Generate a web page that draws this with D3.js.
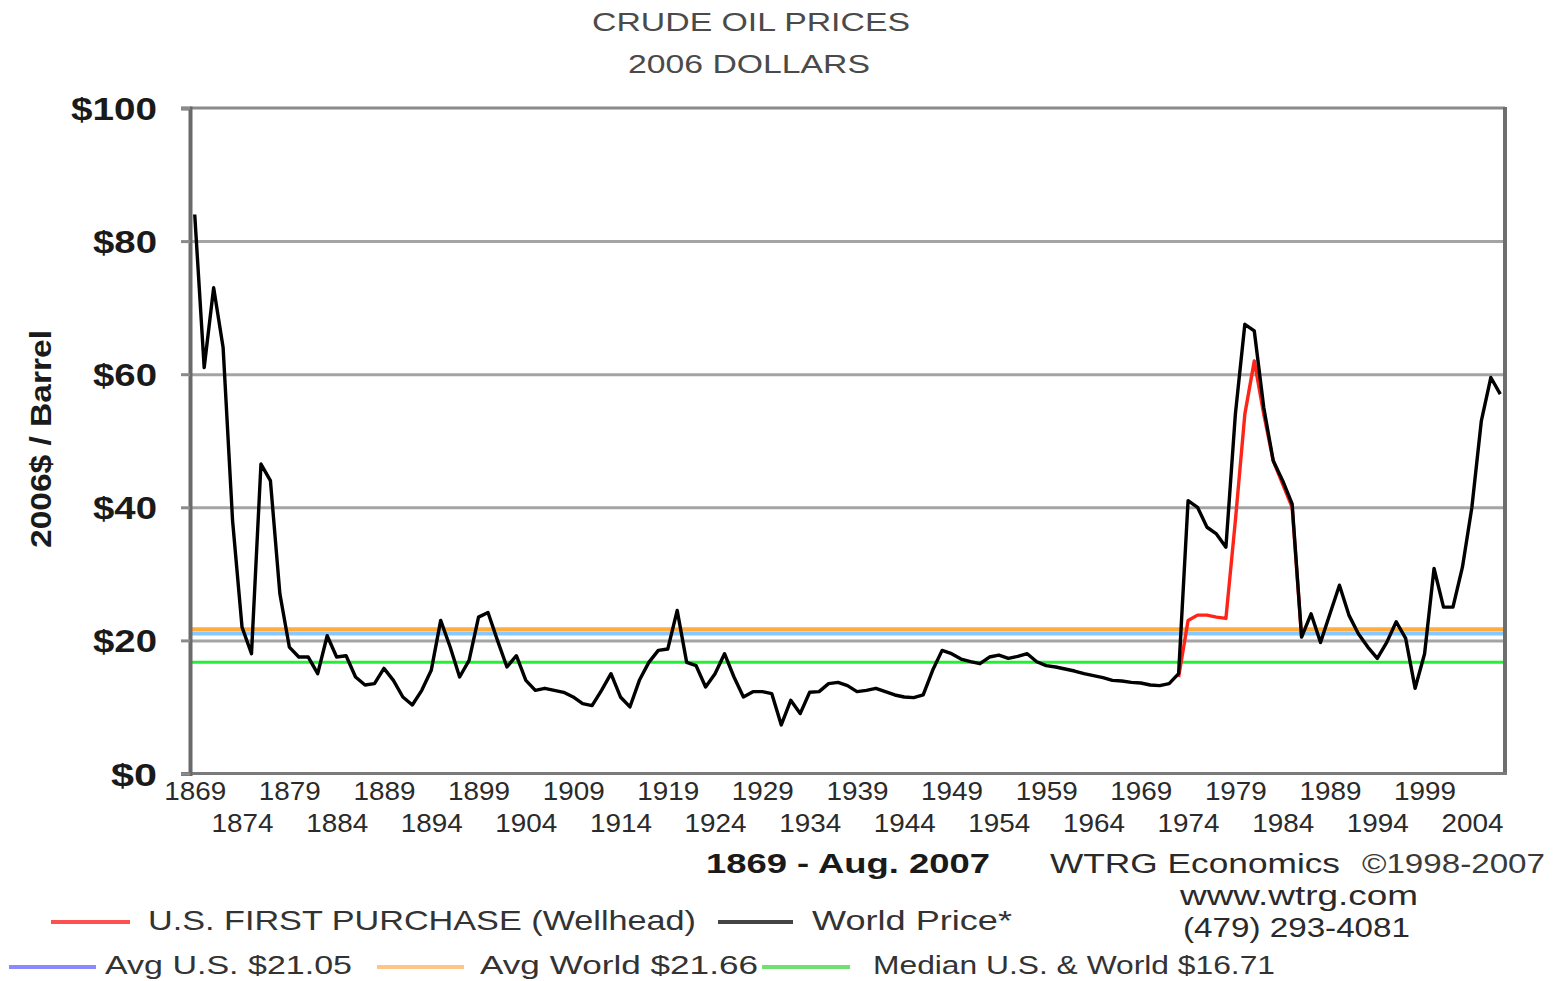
<!DOCTYPE html>
<html>
<head>
<meta charset="utf-8">
<script src="https://cdn.jsdelivr.net/npm/d3@7"></script>
<style>
  body { margin: 0; background: #fff; }
  svg { display: block; }
</style>
</head>
<body>
<div id="chart"></div>
<script>
// crude oil prices, 2006 dollars, 1869 - Aug. 2007

const years = d3.range(1869, 2008)

// world price, one value per year (2006 $/barrel)
const worldPrice = [
    84, 61, 73, 64, 38, 22, 18, 46.5, 44, 27,            // 1869-1878
    19, 17.5, 17.5, 15, 20.7, 17.5, 17.7, 14.5, 13.3, 13.5, // 1879-1888
    15.8, 14, 11.5, 10.3, 12.5, 15.5, 23, 19, 14.5, 17,  // 1889-1898
    23.5, 24.2, 20, 16, 17.7, 14, 12.5, 12.8, 12.5, 12.2, // 1899-1908
    11.5, 10.5, 10.2, 12.5, 15, 11.5, 10, 14, 16.7, 18.5, // 1909-1918
    18.7, 24.5, 16.7, 16.2, 13, 15, 18, 14.5, 11.5, 12.3, // 1919-1928
    12.3, 12, 7.3, 11, 9, 12.2, 12.3, 13.5, 13.7, 13.2,  // 1929-1938
    12.3, 12.5, 12.8, 12.3, 11.8, 11.5, 11.4, 11.8, 15.5, 18.5, // 1939-1948
    18, 17.2, 16.8, 16.5, 17.5, 17.8, 17.3, 17.6, 18, 16.8, // 1949-1958
    16.2, 16, 15.7, 15.4, 15, 14.7, 14.4, 14, 13.9, 13.7, // 1959-1968
    13.6, 13.3, 13.2, 13.5, 15, 41, 40, 37, 36, 34,      // 1969-1978
    54, 67.5, 66.5, 55, 47, 44, 40.5, 20.5, 24, 19.7,    // 1979-1988
    24, 28.3, 23.8, 21, 19, 17.3, 19.7, 22.8, 20.3, 12.8, // 1989-1998
    18, 30.8, 25, 25, 31, 40, 53, 59.5, 57               // 1999-2007
]

// u.s. first purchase (wellhead), where it differs from the world price
const usYears = [1973, 1974, 1975, 1976, 1977, 1978, 1979, 1980, 1981, 1982, 1983, 1984, 1985, 1986]
const usPrice = [14.5, 23, 23.8, 23.8, 23.5, 23.3, 38, 54, 62, 54, 47, 43.5, 40, 20.5]

const avgUS = 21.05
const avgWorld = 21.66
const medianAll = 16.71

const yTicks = [0, 20, 40, 60, 80, 100]
const xTickYears = years.filter(d => (d - 1869) % 5 === 0)

const W = 1554, H = 981
const svg = d3.select('#chart').append('svg').attr('width', W).attr('height', H)
    .style('font-family', '"Liberation Sans", Arial, sans-serif')

const x = d3.scalePoint().domain(years).range([190, 1505]).padding(0.5)
const y = d3.scaleLinear().domain([0, 100]).range([773.5, 108])

// gridlines
svg.append('g')
    .attr('transform', 'translate(190,0)')
    .call(d3.axisLeft(y).tickValues([20, 40, 60, 80]).tickSize(-1315).tickFormat(''))
    .call(g => g.select('.domain').remove())
    .selectAll('line').attr('stroke', '#a4a4a4').attr('stroke-width', 3)

// frame
svg.append('line').attr('x1', 190).attr('x2', 1505).attr('y1', 108).attr('y2', 108)
    .attr('stroke', '#8a8a8a').attr('stroke-width', 3)
svg.append('line').attr('x1', 1505).attr('x2', 1505).attr('y1', 107).attr('y2', 775)
    .attr('stroke', '#6e6e6e').attr('stroke-width', 4)
svg.append('line').attr('x1', 188).attr('x2', 1507).attr('y1', 773.5).attr('y2', 773.5)
    .attr('stroke', '#7a7a7a').attr('stroke-width', 3)

// average / median lines
const hline = (v, color, w) => svg.append('line')
    .attr('x1', 192).attr('x2', 1503).attr('y1', y(v)).attr('y2', y(v))
    .attr('stroke', color).attr('stroke-width', w)
hline(avgUS, '#86c8ff', 4)
hline(avgWorld, '#ffac3c', 4)
hline(medianAll, '#22f033', 3)

// y axis
const yAxis = svg.append('g')
    .attr('transform', 'translate(190,0)')
    .call(d3.axisLeft(y).tickValues(yTicks).tickSize(9).tickPadding(24).tickFormat(d => '$' + d))
yAxis.select('.domain').attr('stroke', '#6a6a6a').attr('stroke-width', 4)
yAxis.selectAll('.tick line').attr('stroke', '#8a8a8a').attr('stroke-width', 3)
yAxis.selectAll('.tick text')
    .attr('fill', '#1a1a1a').attr('font-size', 32).attr('font-weight', 'bold')
    .attr('dy', '0.36em')
    .attr('textLength', d => d === 100 ? 86 : d === 0 ? 46 : 64)
    .attr('lengthAdjust', 'spacingAndGlyphs')

// x axis, labels alternate between two rows
const xAxis = svg.append('g')
    .attr('transform', 'translate(0,773.5)')
    .call(d3.axisBottom(x).tickValues(xTickYears).tickSize(0).tickPadding(0))
xAxis.select('.domain').remove()
xAxis.selectAll('.tick text')
    .attr('fill', '#2a2a2a').attr('font-size', 25)
    .attr('y', (d, i) => i % 2 === 0 ? 18 : 50).attr('dy', '0.35em')
    .attr('textLength', 62).attr('lengthAdjust', 'spacingAndGlyphs')

// price lines
const line = d3.line().x(d => x(d[0])).y(d => y(d[1]))
svg.append('path')
    .datum(usYears.map((d, i) => [d, usPrice[i]]))
    .attr('d', line).attr('fill', 'none')
    .attr('stroke', '#ff2418').attr('stroke-width', 3.4).attr('stroke-linejoin', 'round')
svg.append('path')
    .datum(years.map((d, i) => [d, worldPrice[i]]))
    .attr('d', line).attr('fill', 'none')
    .attr('stroke', '#000').attr('stroke-width', 3.4).attr('stroke-linejoin', 'round')

// texts
const txt = (s, x0, y0, len, size, opts = {}) => svg.append('text')
    .attr('x', x0).attr('y', y0).attr('dy', '0.36em')
    .attr('font-size', size).attr('font-weight', opts.bold ? 'bold' : 'normal')
    .attr('fill', opts.fill || '#2a2a2a')
    .attr('textLength', len).attr('lengthAdjust', 'spacingAndGlyphs')
    .text(s)

txt('CRUDE OIL PRICES', 592, 22, 318, 26, { fill: '#4a4a4a' })
txt('2006 DOLLARS', 628, 64, 242, 26, { fill: '#4a4a4a' })

svg.append('text')
    .attr('transform', 'translate(40,439) rotate(-90)')
    .attr('text-anchor', 'middle').attr('dy', '0.36em')
    .attr('font-size', 30).attr('font-weight', 'bold').attr('fill', '#1a1a1a')
    .attr('textLength', 218).attr('lengthAdjust', 'spacingAndGlyphs')
    .text('2006$ / Barrel')

txt('1869 - Aug. 2007', 706, 863, 284, 27, { bold: true, fill: '#1a1a1a' })
txt('WTRG Economics', 1050, 863, 290, 27)
txt('\u00a91998-2007', 1362, 863, 183, 27, { fill: '#3a3a3a' })
txt('www.wtrg.com', 1180, 895, 238, 27)
txt('(479) 293-4081', 1183, 927, 227, 27)

// legend
const legendLabels = ['U.S. FIRST PURCHASE (Wellhead)', 'World Price*', 'Avg U.S. $21.05', 'Avg World $21.66', 'Median U.S. & World  $16.71']
const legendColors = ['#ff5050', '#444444', '#8a8aff', '#ffc486', '#70e070']
const legendLayout = [
    { lx: 51, lw: 79, tx: 148, tl: 548, ty: 920, fs: 28 },
    { lx: 718, lw: 75, tx: 812, tl: 200, ty: 920, fs: 28 },
    { lx: 9, lw: 87, tx: 105, tl: 247, ty: 965, fs: 25 },
    { lx: 377, lw: 87, tx: 480, tl: 278, ty: 965, fs: 25 },
    { lx: 762, lw: 88, tx: 873, tl: 402, ty: 965, fs: 25 }
]
legendLabels.forEach((s, i) => {
    const L = legendLayout[i]
    svg.append('line').attr('x1', L.lx).attr('x2', L.lx + L.lw).attr('y1', L.ty + 2).attr('y2', L.ty + 2)
        .attr('stroke', legendColors[i]).attr('stroke-width', 4)
    txt(s, L.tx, L.ty, L.tl, L.fs, { fill: '#333' })
})
</script>
</body>
</html>
